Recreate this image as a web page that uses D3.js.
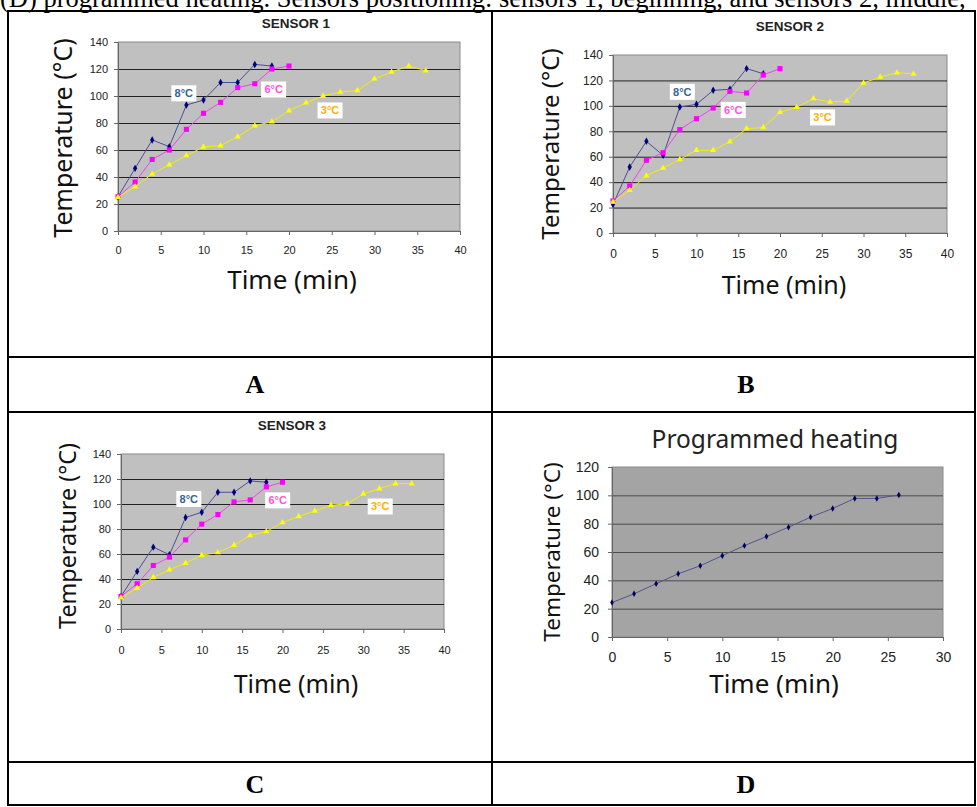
<!DOCTYPE html>
<html>
<head>
<meta charset="utf-8">
<script src="https://cdn.jsdelivr.net/npm/d3@7/dist/d3.min.js"></script>
<style>
  body { margin: 0; background: #fff; }
  svg { display: block; }
</style>
</head>
<body>
<div id="fig"></div>
<script>

// ---- data ----
var sensorTime = [0, 2, 4, 6, 8, 10, 12, 14, 16, 18, 20, 22, 24, 26, 28, 30, 32, 34, 36];
var sensorTimeTicks = [0, 5, 10, 15, 20, 25, 30, 35, 40];
var sensorTempTicks = [0, 20, 40, 60, 80, 100, 120, 140];

var sensor1_8C = [25.4, 46.4, 67.4, 62.5, 93.3, 97, 110, 110, 123.4, 122.2];
var sensor1_6C = [25.4, 36.3, 53, 60, 75.3, 87.2, 95.3, 106.2, 109.1, 120, 122.2];
var sensor1_3C = [25, 32.8, 42.2, 49.1, 56, 62.2, 63.2, 69.9, 78, 81, 89.1, 95, 100, 103, 104, 112.8, 117.8, 122.2, 118.8];

var sensor2_8C = [22.5, 51.9, 72.1, 61.1, 99.1, 101.2, 112.2, 113, 129.3, 125.3];
var sensor2_6C = [25.2, 37, 57.2, 63.2, 81.3, 89.9, 98.3, 111.4, 110.1, 124.3, 129.3];
var sensor2_3C = [24.4, 33.6, 45.1, 51.1, 57.9, 65, 65, 71.8, 82.1, 82.9, 94.9, 98.9, 105.7, 103, 103.8, 118, 122.7, 126.1, 125.1];

var sensor3_8C = [26.1, 46.1, 65.5, 59.4, 89.2, 93.4, 109.4, 109.4, 118.5, 117.4];
var sensor3_6C = [26.1, 36.2, 50.8, 57.5, 71.3, 83.9, 91.6, 101.7, 103.3, 113.7, 117.4];
var sensor3_3C = [25, 32.7, 41.3, 47.4, 52.7, 59.1, 61.2, 67.1, 74.8, 78, 85.2, 90, 94.5, 99, 100.1, 108.1, 112.3, 116.3, 116.3];

var programmedTime = [0, 2, 4, 6, 8, 10, 12, 14, 16, 18, 20, 22, 24, 26];
var programmedTemp = [24.3, 30.5, 37.6, 44.6, 50.3, 57.4, 64.5, 70.9, 77.5, 84.6, 90.7, 97.8, 97.8, 100.2];
var programmedTimeTicks = [0, 5, 10, 15, 20, 25, 30];
var programmedTempTicks = [0, 20, 40, 60, 80, 100, 120];

var seriesNames = ["8°C", "6°C", "3°C"];
var chartTitles = ["SENSOR 1", "SENSOR 2", "SENSOR 3", "Programmed heating"];
var panelLetters = ["A", "B", "C", "D"];
var caption = "(D) programmed heating. Sensors positioning: sensors 1, beginning, and sensors 2, middle,";

// ---- styles ----
var seriesStyle = {
	"8°C": {line: "#4d4d96", dot: "#000080", symbol: d3.symbolDiamond, size: 16, text: "#336699"},
	"6°C": {line: "#ee44ee", dot: "#ff00ff", symbol: d3.symbolSquare, size: 26, text: "#ff55dd"},
	"3°C": {line: "#f0f000", dot: "#ffff00", symbol: d3.symbolTriangle, size: 16, text: "#ffb000"},
	"prog": {line: "#55558a", dot: "#000060", symbol: d3.symbolDiamond, size: 12}
}

var sans = '"Liberation Sans", Arial, sans-serif'
var calibri = '"Noto Sans", "Open Sans", sans-serif'

var svg = d3.select('#fig')
	.append('svg')
	.attr('width', 977)
	.attr('height', 807)

// caption line, cut by the top of the page as in the source
svg.append('text')
	.attr('x', 0)
	.attr('y', 7)
	.attr('font-family', '"Liberation Serif", "Times New Roman", serif')
	.attr('font-size', 26.5)
	.text(caption)

function drawChart(cfg) {
	var b = cfg.box
	var x = d3.scaleLinear().domain(d3.extent(cfg.xTicks)).range([b.left, b.right])
	var y = d3.scaleLinear().domain(d3.extent(cfg.yTicks)).range([b.bottom, b.top])
	var g = svg.append('g')

	g.append('rect')
		.attr('x', b.left).attr('y', b.top)
		.attr('width', b.right - b.left).attr('height', b.bottom - b.top)
		.attr('fill', cfg.bg)
		.attr('stroke', '#8a8a8a')

	// horizontal gridlines
	g.append('g')
		.attr('transform', 'translate(' + b.left + ',0)')
		.call(d3.axisLeft(y).tickValues(cfg.yTicks.slice(1, -1)).tickSize(-(b.right - b.left)).tickFormat(''))
		.call(function(s) { s.select('.domain').remove() })
		.selectAll('line').attr('stroke', cfg.grid)

	// y axis
	var ya = g.append('g')
		.attr('transform', 'translate(' + b.left + ',0)')
		.call(d3.axisLeft(y).tickValues(cfg.yTicks).tickSize(4).tickPadding(cfg.yPad).tickSizeOuter(0))
	ya.selectAll('text').attr('font-family', sans).attr('font-size', cfg.tickSize).attr('fill', '#222')
	ya.selectAll('line,path').attr('stroke', '#666')

	// x axis
	var xa = g.append('g')
		.attr('transform', 'translate(0,' + b.bottom + ')')
		.call(d3.axisBottom(x).tickValues(cfg.xTicks).tickSize(4).tickPadding(cfg.xPad).tickSizeOuter(0))
	xa.selectAll('text').attr('font-family', sans).attr('font-size', cfg.tickSize).attr('fill', '#222')
	xa.selectAll('line,path').attr('stroke', '#666')

	var line = d3.line()
		.x(function(d) { return x(d[0]) })
		.y(function(d) { return y(d[1]) })

	cfg.series.forEach(function(s) {
		var st = seriesStyle[s.name]
		var pts = s.values.map(function(v, i) { return [s.time[i], v] })
		g.append('path')
			.datum(pts)
			.attr('d', line)
			.attr('fill', 'none')
			.attr('stroke', st.line)
			.attr('stroke-width', 1)
		g.selectAll(null)
			.data(pts)
			.enter().append('path')
			.attr('d', d3.symbol().type(st.symbol).size(st.size))
			.attr('transform', function(d) { return 'translate(' + x(d[0]) + ',' + y(d[1]) + ')' })
			.attr('fill', st.dot)
	})

	// data labels (white boxes)
	;(cfg.labels || []).forEach(function(l) {
		var st = seriesStyle[l.name]
		var lx = x(l.t), ly = y(l.v)
		g.append('rect')
			.attr('x', lx - 12.5).attr('y', ly - 8)
			.attr('width', 25).attr('height', 16)
			.attr('fill', '#fff')
		g.append('text')
			.attr('x', lx).attr('y', ly).attr('dy', '0.36em')
			.attr('text-anchor', 'middle')
			.attr('font-family', sans).attr('font-weight', 'bold').attr('font-size', 11)
			.attr('fill', st.text)
			.text(l.name)
	})

	// titles
	g.append('text')
		.attr('x', cfg.title.x).attr('y', cfg.title.y)
		.attr('text-anchor', 'middle')
		.attr('font-family', cfg.title.font).attr('font-weight', cfg.title.weight)
		.attr('font-size', cfg.title.size).attr('fill', '#222')
		.text(cfg.title.text)

	g.append('text')
		.attr('transform', 'translate(' + cfg.yTitle.x + ',' + cfg.yTitle.y + ') rotate(-90)')
		.attr('dy', '0.35em')
		.attr('text-anchor', 'middle')
		.attr('font-family', calibri).attr('font-size', cfg.yTitle.size).attr('fill', '#111')
		.text('Temperature (°C)')

	g.append('text')
		.attr('x', cfg.xTitle.x).attr('y', cfg.xTitle.y)
		.attr('text-anchor', 'middle')
		.attr('font-family', calibri).attr('font-size', cfg.xTitle.size).attr('fill', '#111')
		.text('Time (min)')
}

function sensorSeries(a, b, c) {
	return [
		{name: seriesNames[0], time: sensorTime, values: a},
		{name: seriesNames[1], time: sensorTime, values: b},
		{name: seriesNames[2], time: sensorTime, values: c}
	]
}

drawChart({
	box: {left: 118, right: 460, top: 42, bottom: 231},
	xTicks: sensorTimeTicks, yTicks: sensorTempTicks,
	bg: '#c0c0c0', grid: '#222', tickSize: 11, xPad: 11, yPad: 6,
	series: sensorSeries(sensor1_8C, sensor1_6C, sensor1_3C),
	labels: [{name: seriesNames[0], t: 7.7, v: 102}, {name: seriesNames[1], t: 18.2, v: 104.8}, {name: seriesNames[2], t: 24.8, v: 89.3}],
	title: {text: chartTitles[0], x: 296, y: 28, size: 13.5, font: sans, weight: 'bold'},
	yTitle: {x: 63, y: 138, size: 25},
	xTitle: {x: 292, y: 289, size: 26}
})

drawChart({
	box: {left: 613, right: 947, top: 55, bottom: 233},
	xTicks: sensorTimeTicks, yTicks: sensorTempTicks,
	bg: '#c0c0c0', grid: '#222', tickSize: 12, xPad: 12, yPad: 6,
	series: sensorSeries(sensor2_8C, sensor2_6C, sensor2_3C),
	labels: [{name: seriesNames[0], t: 8.3, v: 111}, {name: seriesNames[1], t: 14.4, v: 96.8}, {name: seriesNames[2], t: 25.1, v: 90.9}],
	title: {text: chartTitles[1], x: 790, y: 31, size: 13.5, font: sans, weight: 'bold'},
	yTitle: {x: 551, y: 144, size: 24},
	xTitle: {x: 784, y: 294, size: 25}
})

drawChart({
	box: {left: 121, right: 444, top: 454, bottom: 629},
	xTicks: sensorTimeTicks, yTicks: sensorTempTicks,
	bg: '#c0c0c0', grid: '#222', tickSize: 11, xPad: 13, yPad: 6,
	series: sensorSeries(sensor3_8C, sensor3_6C, sensor3_3C),
	labels: [{name: seriesNames[0], t: 8.4, v: 104}, {name: seriesNames[1], t: 19.4, v: 102.9}, {name: seriesNames[2], t: 32.1, v: 98}],
	title: {text: chartTitles[2], x: 292, y: 430, size: 13.5, font: sans, weight: 'bold'},
	yTitle: {x: 68, y: 536, size: 23.3},
	xTitle: {x: 296, y: 693, size: 25}
})

drawChart({
	box: {left: 612, right: 943, top: 467, bottom: 637},
	xTicks: programmedTimeTicks, yTicks: programmedTempTicks,
	bg: '#a4a4a4', grid: '#4a4a4a', tickSize: 14, xPad: 11, yPad: 9,
	series: [{name: 'prog', time: programmedTime, values: programmedTemp}],
	title: {text: chartTitles[3], x: 775, y: 448, size: 24.5, font: calibri, weight: 'normal'},
	yTitle: {x: 552, y: 552, size: 22.5},
	xTitle: {x: 774, y: 693, size: 26}
})

// ---- table frame ----
var frame = svg.append('g').attr('stroke', '#000').attr('stroke-width', 2).attr('fill', 'none')
frame.append('rect').attr('x', 8).attr('y', 11).attr('width', 967).attr('height', 794)
frame.append('line').attr('x1', 492).attr('x2', 492).attr('y1', 11).attr('y2', 805)
;[357, 412, 762].forEach(function(yy) {
	frame.append('line').attr('x1', 8).attr('x2', 975).attr('y1', yy).attr('y2', yy)
})

svg.selectAll('text.panel')
	.data(panelLetters)
	.enter().append('text')
	.attr('class', 'panel')
	.attr('x', function(d, i) { return i % 2 ? 746 : 255 })
	.attr('y', function(d, i) { return i < 2 ? 393 : 793 })
	.attr('text-anchor', 'middle')
	.attr('font-family', '"Liberation Serif", "Times New Roman", serif')
	.attr('font-weight', 'bold')
	.attr('font-size', 26)
	.text(function(d) { return d })

</script>
</body>
</html>
